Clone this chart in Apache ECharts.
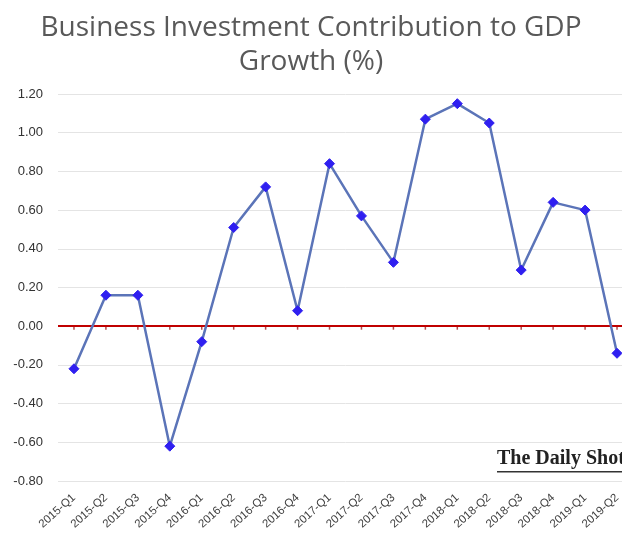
<!DOCTYPE html>
<html>
<head>
<meta charset="utf-8">
<style>
  html, body { margin: 0; padding: 0; background: #ffffff; overflow: hidden; }
  #wrap { width: 622px; height: 537px; overflow: hidden; }
  #chart { width: 660px; height: 537px; }
</style>
<script src="https://cdn.jsdelivr.net/npm/echarts@6/dist/echarts.min.js"></script>
</head>
<body>
<div id="wrap"><div id="chart"></div></div>
<script>
// Quarterly periods
const quarters = [
  '2015-Q1', '2015-Q2', '2015-Q3', '2015-Q4',
  '2016-Q1', '2016-Q2', '2016-Q3', '2016-Q4',
  '2017-Q1', '2017-Q2', '2017-Q3', '2017-Q4',
  '2018-Q1', '2018-Q2', '2018-Q3', '2018-Q4',
  '2019-Q1', '2019-Q2'
];

// Business investment contribution to GDP growth, percentage points
const contribution = [
  -0.22, 0.16, 0.16, -0.62,
  -0.08, 0.51, 0.72, 0.08,
  0.84, 0.57, 0.33, 1.07,
  1.15, 1.05, 0.29, 0.64,
  0.60, -0.14
];

const yMin = -0.8, yMax = 1.2, yStep = 0.2;

const chart = echarts.init(document.getElementById('chart'), null, { renderer: 'canvas' });

chart.setOption({
  backgroundColor: '#ffffff',
  animation: false,
  grid: { left: 58, top: 94, width: 575, height: 387, containLabel: false },
  xAxis: {
    type: 'category',
    data: quarters,
    boundaryGap: true,
    axisLine: { show: false },
    axisTick: { show: false },
    axisLabel: {
      rotate: 42,
      interval: 0,
      margin: 15,
      fontFamily: 'Liberation Sans',
      fontSize: 11.5,
      color: '#404040'
    },
    splitLine: { show: false }
  },
  yAxis: {
    type: 'value',
    min: yMin,
    max: yMax,
    interval: yStep,
    axisLine: { show: false },
    axisTick: { show: false },
    axisLabel: {
      formatter: v => v.toFixed(2),
      margin: 15,
      fontFamily: 'Liberation Sans',
      fontSize: 13,
      color: '#333333'
    },
    splitLine: { lineStyle: { color: '#e4e4e4', width: 1 } }
  },
  series: [
    {
      // red zero line across the plot
      type: 'line',
      data: [],
      silent: true,
      markLine: {
        silent: true,
        symbol: 'none',
        label: { show: false },
        lineStyle: { color: '#c00000', width: 2, type: 'solid' },
        data: [{ yAxis: 0 }]
      }
    },
    {
      // small tick marks on the zero line at each quarter
      type: 'scatter',
      data: quarters.map(() => 0),
      symbol: 'rect',
      symbolSize: [1.5, 4],
      symbolOffset: [0, 1.5],
      silent: true,
      itemStyle: { color: '#a02020' },
      z: 3
    },
    {
      type: 'line',
      data: contribution,
      symbol: 'diamond',
      symbolSize: 10,
      itemStyle: { color: '#2f1ff0', borderColor: '#2f1ff0' },
      lineStyle: { color: '#5b74b8', width: 2.5 },
      z: 5
    }
  ],
  graphic: [
    {
      type: 'text',
      x: 311,
      y: 11,
      style: {
        text: 'Business Investment Contribution to GDP\nGrowth (%)',
        textAlign: 'center',
        fontFamily: 'Open Sans',
        fontSize: 28,
        lineHeight: 34,
        fill: '#595959'
      }
    },
    {
      type: 'text',
      left: 497,
      top: 449,
      style: {
        text: 'The Daily Shot',
        fontFamily: 'Liberation Serif',
        fontWeight: 'bold',
        fontSize: 20,
        fill: '#222222'
      }
    },
    {
      type: 'rect',
      shape: { x: 497, y: 471, width: 140, height: 1.5 },
      style: { fill: '#333333' }
    }
  ]
});
</script>
</body>
</html>
